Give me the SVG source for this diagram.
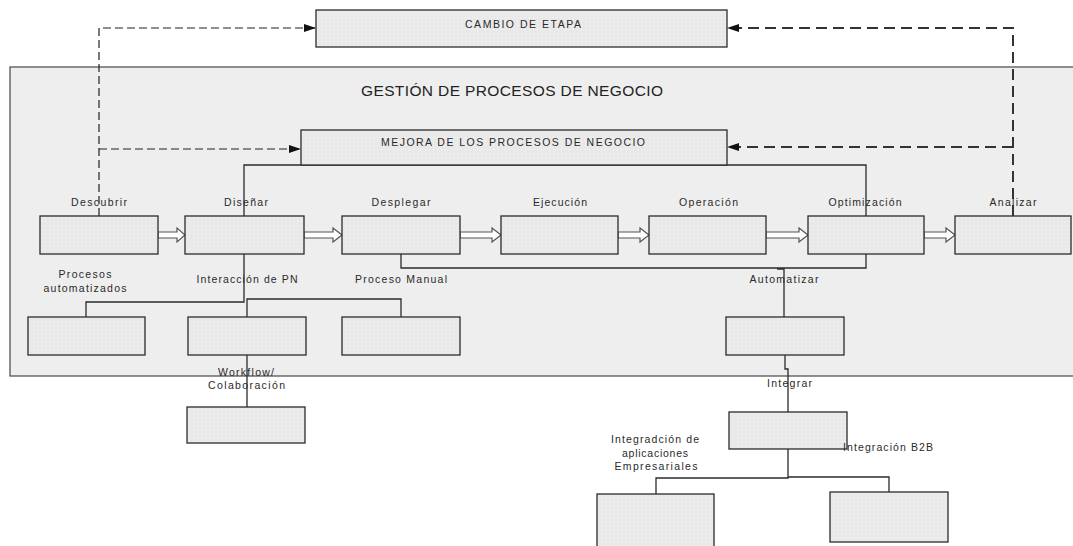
<svg xmlns="http://www.w3.org/2000/svg" width="1073" height="546" viewBox="0 0 1073 546">
<style>
.bx{fill:url(#dots);stroke:#2b2b2b;stroke-width:1.3}
.t{font-family:"Liberation Sans",Arial,sans-serif;font-size:10.5px;fill:#2a2a2a;text-anchor:middle}
.c{fill:none;stroke:#2b2b2b;stroke-width:1.3}
.ha{fill:#fff;stroke:#555;stroke-width:1.2}
.dl{fill:none;stroke:#222;stroke-width:1.2;stroke-dasharray:8 4}
.dr{fill:none;stroke:#333;stroke-width:2;stroke-dasharray:11 6}
</style>
<defs>
<pattern id="dots" width="4" height="4" patternUnits="userSpaceOnUse">
<rect width="4" height="4" fill="#e9e9e9"/>
<rect x="1" y="1" width="1" height="1" fill="#f7f7f7"/>
</pattern>
<marker id="ah" markerWidth="12" markerHeight="8" refX="12" refY="4" orient="auto" markerUnits="userSpaceOnUse">
<path d="M0,0 L12,4 L0,8 Z" fill="#111"/>
</marker>
</defs>
<rect width="1073" height="546" fill="#fff"/>

<g id="gestion">
<rect x="10" y="67" width="1075" height="309" fill="#eeeeee" stroke="#555" stroke-width="1.3"/>
<text x="512" y="95.5" font-family="'Liberation Sans',Arial,sans-serif" font-size="15.5" fill="#222" text-anchor="middle" textLength="302" lengthAdjust="spacing">GESTIÓN DE PROCESOS DE NEGOCIO</text>
</g>

<g id="connectors">
<path class="c" d="M244,216 V165 H866 V216"/>
<path class="c" d="M401,254 V268 H866 V254"/>
<path class="c" d="M777,269 H784 V317"/>
<path class="c" d="M785,355 V369 H788 V412"/>
<path class="c" d="M788,449 V478 H656 V494"/>
<path class="c" d="M788,477 H889 V492"/>
<path class="c" d="M244,254 V302 H86 V317"/>
<path class="c" d="M247,317 V299 H401 V317"/>
<path class="c" d="M247,355 V407"/>
<path class="dl" d="M99,216 V28 H316" marker-end="url(#ah)"/>
<path class="dl" d="M99,149 H301" marker-end="url(#ah)"/>
<path class="dr" d="M1013,216 V28 H727" marker-end="url(#ah)"/>
<path class="dr" d="M1013,147 H727" marker-end="url(#ah)"/>
<polygon class="ha" points="158,232 177,232 177,228 185,235 177,242 177,238 158,238"/>
<polygon class="ha" points="304,232 333,232 333,228 342,235 333,242 333,238 304,238"/>
<polygon class="ha" points="460,232 492,232 492,228 501,235 492,242 492,238 460,238"/>
<polygon class="ha" points="618,232 640,232 640,228 649,235 640,242 640,238 618,238"/>
<polygon class="ha" points="766,232 799,232 799,228 808,235 799,242 799,238 766,238"/>
<polygon class="ha" points="924,232 946,232 946,228 955,235 946,242 946,238 924,238"/>
</g>

<g id="cambio">
<rect class="bx" x="316" y="10" width="411" height="37"/>
<text class="t" x="523" y="27.5" textLength="116" lengthAdjust="spacing">CAMBIO  DE ETAPA</text>
</g>

<g id="mejora">
<rect class="bx" x="301" y="130" width="426" height="35"/>
<text class="t" x="513" y="145.5" textLength="264" lengthAdjust="spacing">MEJORA  DE LOS PROCESOS DE NEGOCIO</text>
</g>

<g id="descubrir">
<rect class="bx" x="40" y="216" width="118" height="38"/>
<text class="t" x="99" y="205.5" textLength="56" lengthAdjust="spacing">Descubrir</text>
</g>
<g id="disenar">
<rect class="bx" x="185" y="216" width="119" height="38"/>
<text class="t" x="246" y="205.5" textLength="44" lengthAdjust="spacing">Diseñar</text>
</g>
<g id="desplegar">
<rect class="bx" x="342" y="216" width="118" height="38"/>
<text class="t" x="401" y="205.5" textLength="59" lengthAdjust="spacing">Desplegar</text>
</g>
<g id="ejecucion">
<rect class="bx" x="501" y="216" width="117" height="38"/>
<text class="t" x="560" y="205.5" textLength="54" lengthAdjust="spacing">Ejecución</text>
</g>
<g id="operacion">
<rect class="bx" x="649" y="216" width="117" height="38"/>
<text class="t" x="708.5" y="205.5" textLength="59" lengthAdjust="spacing">Operación</text>
</g>
<g id="optimizacion">
<rect class="bx" x="808" y="216" width="116" height="38"/>
<text class="t" x="865" y="205.5" textLength="73" lengthAdjust="spacing">Optimización</text>
</g>
<g id="analizar">
<rect class="bx" x="955" y="216" width="116" height="38"/>
<text class="t" x="1013" y="205.5" textLength="47" lengthAdjust="spacing">Analizar</text>
</g>

<g id="procesos-automatizados">
<rect class="bx" x="28" y="317" width="117" height="38"/>
<text class="t" x="85" y="278" textLength="53" lengthAdjust="spacing">Procesos</text>
<text class="t" x="85" y="291.5" textLength="83" lengthAdjust="spacing">automatizados</text>
</g>
<g id="interaccion-pn">
<rect class="bx" x="188" y="317" width="118" height="38"/>
<text class="t" x="247" y="283" textLength="101" lengthAdjust="spacing">Interacción de PN</text>
</g>
<g id="proceso-manual">
<rect class="bx" x="342" y="317" width="118" height="38"/>
<text class="t" x="401" y="283" textLength="92" lengthAdjust="spacing">Proceso  Manual</text>
</g>
<g id="automatizar">
<rect class="bx" x="726" y="317" width="118" height="38"/>
<text class="t" x="784" y="283" textLength="69" lengthAdjust="spacing">Automatizar</text>
</g>
<g id="workflow">
<rect class="bx" x="187" y="407" width="118" height="36"/>
<text class="t" x="246" y="376" textLength="56" lengthAdjust="spacing">Workflow/</text>
<text class="t" x="246.5" y="389" textLength="77" lengthAdjust="spacing">Colaboración</text>
</g>
<g id="integrar">
<rect class="bx" x="729" y="412" width="118" height="37"/>
<text class="t" x="789.5" y="387" textLength="45" lengthAdjust="spacing">Integrar</text>
</g>
<g id="integracion-aplicaciones">
<rect class="bx" x="597" y="494" width="117" height="60"/>
<text class="t" x="655" y="443" textLength="88" lengthAdjust="spacing">Integradción de</text>
<text class="t" x="655" y="456.5" textLength="66" lengthAdjust="spacing">aplicaciones</text>
<text class="t" x="656" y="470" textLength="83" lengthAdjust="spacing">Empresariales</text>
</g>
<g id="integracion-b2b">
<rect class="bx" x="830" y="492" width="118" height="50"/>
<text class="t" x="888" y="451" textLength="90" lengthAdjust="spacing">Integración B2B</text>
</g>
</svg>
